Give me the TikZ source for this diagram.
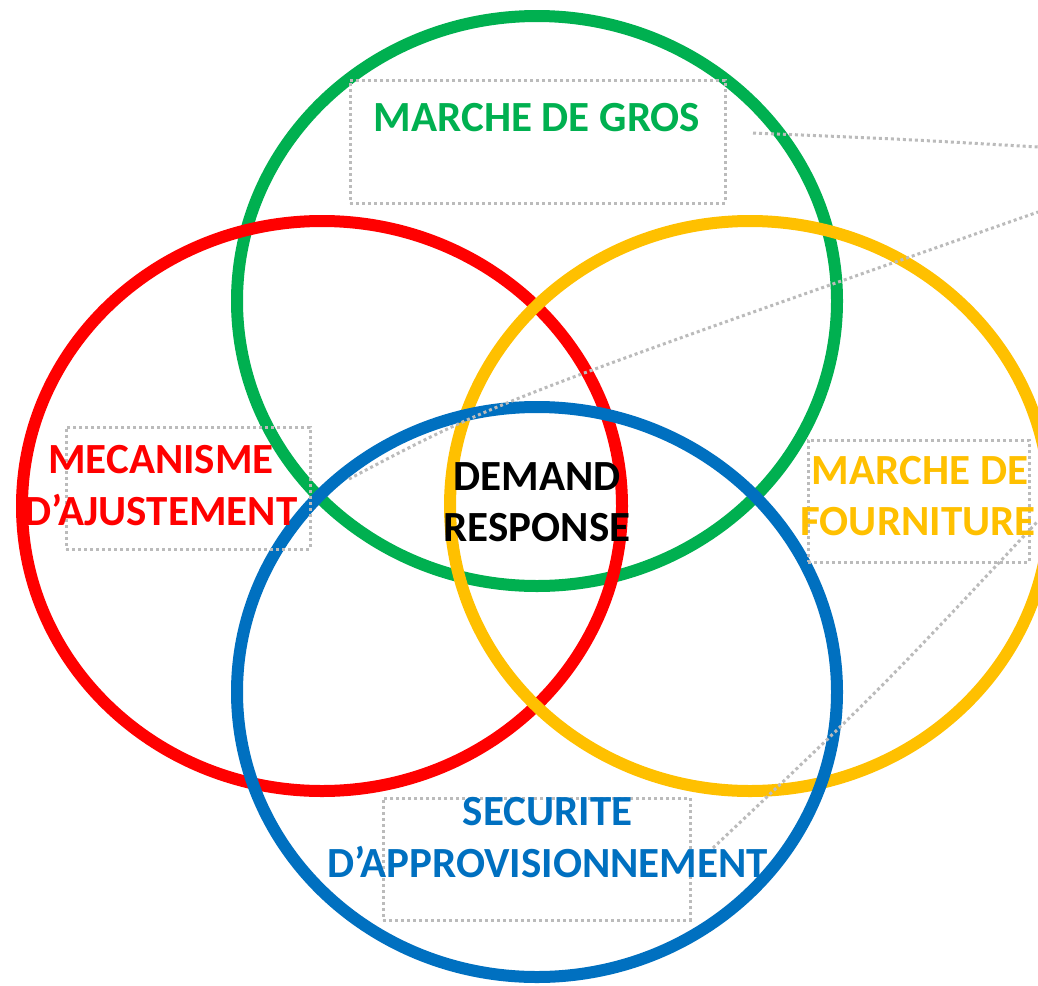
\documentclass[tikz,border=0pt]{standalone}
\usepackage{fontspec}
\setmainfont{Carlito}
\definecolor{cgreen}{HTML}{00B050}
\definecolor{cred}{HTML}{FF0000}
\definecolor{cyellow}{HTML}{FFC000}
\definecolor{cblue}{HTML}{0070C0}
\definecolor{cdot}{HTML}{BBBBBB}
\begin{document}
\begin{tikzpicture}[x=1pt,y=-1pt,
  ring/.style={line width=12pt},
  dotbox/.style={draw=cdot,line width=3pt,dash pattern=on 3pt off 3pt,inner sep=0pt},
  lbl/.style={font=\fontsize{43}{51}\selectfont\bfseries,align=center,inner sep=0pt},
  leader/.style={draw=cdot,line width=3pt,dash pattern=on 3pt off 3pt}]
\useasboundingbox (0,0) rectangle (1038,985);
\fill[white] (0,0) rectangle (1038,985);
\begin{scope}
\clip (0,0) rectangle (1038,985);
% circles
\draw[ring,cgreen] (537,301) ellipse [x radius=300, y radius=285];
\draw[ring,cred] (322,506) ellipse [x radius=300, y radius=285];
\draw[ring,cyellow] (750,506) ellipse [x radius=300, y radius=285];
\draw[ring,cblue] (537,692) ellipse [x radius=300, y radius=285];
% boxes
\node[dotbox,minimum width=375pt,minimum height=123pt] (grosbox) at (537.5,141.5) {};
\node[dotbox,minimum width=244pt,minimum height=122pt] (mecbox) at (188,488) {};
\node[dotbox,minimum width=221pt,minimum height=122pt] (fourbox) at (918.5,501) {};
\node[dotbox,minimum width=307pt,minimum height=122pt] (secbox) at (536.5,859) {};
% leaders
\coordinate (l1a) at (753,133);
\coordinate (l1b) at (1038,147);
\coordinate (l2a) at (349,479);
\coordinate (l2b) at (1038,212);
\coordinate (l3a) at (713,848);
\coordinate (l3b) at (1037,522);
\draw[leader] (l1a) .. controls (900,139) .. (l1b);
\draw[leader] (l2a) .. controls (493,403) .. (l2b);
\draw[leader] (l3a) .. controls (880,690) .. (l3b);
% labels
\node[lbl,text=cgreen,anchor=base] (gros) at (537,131) {MARCHE DE GROS};
\node[lbl,text=cred,anchor=base] (mec1) at (161,473) {MECANISME};
\node[lbl,text=cred,anchor=base] (mec2) at (161,525) {D’AJUSTEMENT};
\node[lbl,text=black,anchor=base] (dr1) at (537,490) {DEMAND};
\node[lbl,text=black,anchor=base] (dr2) at (537,541) {RESPONSE};
\node[lbl,text=cyellow,anchor=base] (four1) at (920,484) {MARCHE DE};
\node[lbl,text=cyellow,anchor=base] (four2) at (918,535) {FOURNITURE};
\node[lbl,text=cblue,anchor=base] (sec1) at (547.5,825) {SECURITE};
\node[lbl,text=cblue,anchor=base] (sec2) at (547.5,877) {D’APPROVISIONNEMENT};
\end{scope}
\end{tikzpicture}
\end{document}
